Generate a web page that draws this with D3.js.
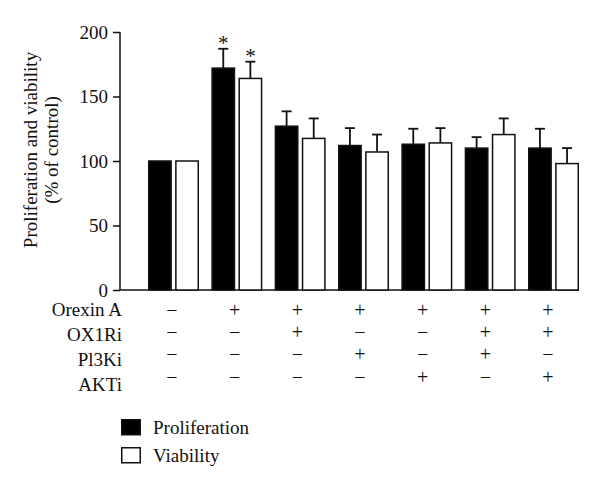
<!DOCTYPE html>
<html>
<head>
<meta charset="utf-8">
<script src="https://cdn.jsdelivr.net/npm/d3@7"></script>
<style>
  html, body { margin: 0; padding: 0; background: #fff; }
  text { font-family: "Liberation Serif", "Times New Roman", serif; fill: #111; }
</style>
</head>
<body>
<svg id="chart" width="600" height="490"></svg>
<script>
// ---- data ----
const groups = ["G1", "G2", "G3", "G4", "G5", "G6", "G7"];
const seriesNames = ["Proliferation", "Viability"];
const proliferation = [100, 172, 127, 112, 113, 110, 110];
const proliferationErr = [0, 15, 11.5, 13.5, 12, 8.5, 15];
const viability = [100, 164, 117.5, 107, 114, 120.5, 98];
const viabilityErr = [0, 13, 15.5, 13.5, 11.5, 12.5, 12];
const significant = [false, true, false, false, false, false, false];
const yTicks = [0, 50, 100, 150, 200];
const rowLabels = ["Orexin A", "OX1Ri", "Pl3Ki", "AKTi"];
const orexinA = ["−", "+", "+", "+", "+", "+", "+"];
const ox1ri   = ["−", "−", "+", "−", "−", "+", "+"];
const pi3ki   = ["−", "−", "−", "+", "−", "+", "−"];
const akti    = ["−", "−", "−", "−", "+", "−", "+"];
const signRows = [orexinA, ox1ri, pi3ki, akti];

// ---- scales ----
const svg = d3.select("#chart");
const x0 = d3.scaleBand().domain(groups).range([148, 579]).paddingInner(0.195).paddingOuter(0);
const x1 = d3.scaleBand().domain(seriesNames).range([0, x0.bandwidth()]).paddingInner(0.12);
const y = d3.scaleLinear().domain([0, 200]).range([290, 32]);
const signX = d3.scalePoint().domain(groups).range([172, 548]);
const labelRowY = d3.scalePoint().domain(rowLabels).range([316, 391]);
const signRowY = d3.scalePoint().domain(rowLabels).range([310, 377]);

const fills = { Proliferation: "#000", Viability: "#fff" };
const FS = "19px";

// ---- y axis ----
const yAxis = svg.append("g")
  .attr("transform", "translate(120,0)")
  .call(d3.axisLeft(y).tickValues(yTicks).tickSize(7).tickPadding(5));
yAxis.select(".domain").attr("stroke", "#111").attr("stroke-width", 1.5)
  .attr("d", `M0,${y(200)}V${y(0)}`);
yAxis.selectAll(".tick line").attr("stroke", "#111").attr("stroke-width", 1.5);
yAxis.selectAll(".tick text").style("font-family", "Liberation Serif, serif")
  .style("font-size", FS).attr("fill", "#111");

// x baseline
svg.append("line")
  .attr("x1", 120).attr("x2", x0.range()[1])
  .attr("y1", y(0)).attr("y2", y(0))
  .attr("stroke", "#111").attr("stroke-width", 1.5);

// y title
const titleG = svg.append("g").attr("transform", "translate(0,150) rotate(-90)");
titleG.append("text").attr("x", 0).attr("y", 37).attr("text-anchor", "middle")
  .style("font-size", FS).text("Proliferation and viability");
titleG.append("text").attr("x", 0).attr("y", 58).attr("text-anchor", "middle")
  .style("font-size", FS).text("(% of control)");

// ---- bars ----
const data = groups.map((g, i) => ({
  group: g,
  items: [
    { key: "Proliferation", value: proliferation[i], err: proliferationErr[i] },
    { key: "Viability", value: viability[i], err: viabilityErr[i] }
  ],
  sig: significant[i]
}));

const gGroups = svg.selectAll("g.grp").data(data).enter().append("g")
  .attr("class", "grp")
  .attr("transform", d => `translate(${x0(d.group)},0)`);

gGroups.each(function(d) {
  const g = d3.select(this);
  d.items.forEach(it => {
    if (it.err <= 0) return;
    const cx = x1(it.key) + x1.bandwidth() / 2;
    g.append("line").attr("x1", cx).attr("x2", cx)
      .attr("y1", y(it.value)).attr("y2", y(it.value + it.err))
      .attr("stroke", "#111").attr("stroke-width", 1.8);
    g.append("line").attr("x1", cx - 5).attr("x2", cx + 5)
      .attr("y1", y(it.value + it.err)).attr("y2", y(it.value + it.err))
      .attr("stroke", "#111").attr("stroke-width", 1.8);
    if (d.sig) {
      g.append("text").attr("x", cx).attr("y", y(it.value + it.err) + 1)
        .attr("text-anchor", "middle").style("font-size", "21px").text("*");
    }
  });
});

gGroups.selectAll("rect").data(d => d.items).enter().append("rect")
  .attr("x", d => x1(d.key) + 0.75)
  .attr("width", x1.bandwidth() - 1.5)
  .attr("y", d => y(d.value))
  .attr("height", d => y(0) - y(d.value))
  .attr("fill", d => fills[d.key])
  .attr("stroke", "#111").attr("stroke-width", 1.5);

// ---- treatment table ----
svg.selectAll("text.rowlabel").data(rowLabels).enter().append("text")
  .attr("class", "rowlabel")
  .attr("x", 122).attr("y", d => labelRowY(d))
  .attr("text-anchor", "end").style("font-size", FS)
  .text(d => d);

signRows.forEach((row, r) => {
  svg.selectAll(null).data(row).enter().append("text")
    .attr("x", (d, i) => signX(groups[i]))
    .attr("y", signRowY(rowLabels[r]) + 6.5)
    .attr("text-anchor", "middle")
    .style("font-size", "20px")
    .text(d => d);
});

// ---- legend ----
const legendY = d3.scalePoint().domain(seriesNames).range([419, 447]);
const leg = svg.selectAll("g.leg").data(seriesNames).enter().append("g")
  .attr("class", "leg")
  .attr("transform", d => `translate(121,${legendY(d)})`);
leg.append("rect").attr("x", 0.75).attr("y", 0.75).attr("width", 18.5).attr("height", 15)
  .attr("fill", d => fills[d]).attr("stroke", "#111").attr("stroke-width", 1.5);
leg.append("text").attr("x", 32).attr("y", 15).style("font-size", FS).text(d => d);
</script>
</body>
</html>
